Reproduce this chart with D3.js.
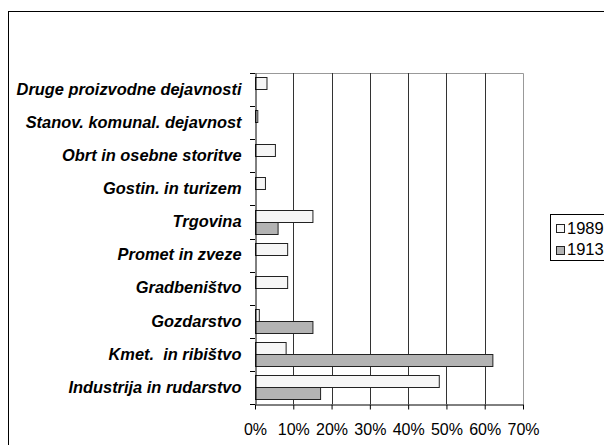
<!DOCTYPE html>
<html>
<head>
<meta charset="utf-8">
<script src="https://cdn.jsdelivr.net/npm/d3@7"></script>
<style>
  body { margin: 0; background: #fff; }
  text { font-family: "Liberation Sans", Arial, sans-serif; white-space: pre; }
</style>
</head>
<body>
<svg id="chart" width="604" height="445"></svg>
<script>
// categories top to bottom
const categories = [
  'Druge proizvodne dejavnosti',
  'Stanov. komunal. dejavnost',
  'Obrt in osebne storitve',
  'Gostin. in turizem',
  'Trgovina',
  'Promet in zveze',
  'Gradbeništvo',
  'Gozdarstvo',
  'Kmet.  in ribištvo',
  'Industrija in rudarstvo'
];
const values1989 = [3, 0.6, 5.2, 2.6, 15, 8.4, 8.4, 1, 8, 48];
const values1913 = [0, 0, 0, 0, 5.9, 0, 0, 15, 62, 17];
const xTicks = [0, 10, 20, 30, 40, 50, 60, 70];
const seriesNames = ['1989', '1913'];
const seriesColors = ['#f6f6f6', '#b3b3b3'];

const svg = d3.select('#chart');

// outer chart frame (runs off the right/bottom edge)
svg.append('rect')
  .attr('x', 8.5).attr('y', 11.5)
  .attr('width', 620).attr('height', 460)
  .attr('fill', 'none').attr('stroke', '#000');

const plot = { left: 255, right: 523, top: 73, bottom: 404 };

const x = d3.scaleLinear().domain([0, 70]).range([plot.left, plot.right]);
const y = d3.scaleBand().domain(categories).range([plot.top, plot.bottom]);
const inner = d3.scaleBand().domain(seriesNames)
  .range([0, y.bandwidth()]).paddingOuter(0.36);

// plot area border (top/right gray)
svg.append('path')
  .attr('d', `M${plot.left},${plot.top + 0.5}H${plot.right + 0.5}V${plot.bottom}`)
  .attr('fill', 'none').attr('stroke', '#999');

// vertical gridlines
svg.append('g').selectAll('line')
  .data(xTicks.slice(1, -1))
  .join('line')
  .attr('x1', d => Math.round(x(d)) + 0.5).attr('x2', d => Math.round(x(d)) + 0.5)
  .attr('y1', plot.top).attr('y2', plot.bottom)
  .attr('stroke', '#333');

// bars
const series = [values1989, values1913];
series.forEach((vals, si) => {
  svg.append('g').selectAll('rect')
    .data(categories.map((c, i) => ({ c, v: vals[i] })).filter(d => d.v > 0))
    .join('rect')
    .attr('x', plot.left + 0.5)
    .attr('y', d => Math.round(y(d.c) + inner(seriesNames[si])) + 0.5)
    .attr('width', d => x(d.v) - plot.left)
    .attr('height', Math.round(inner.bandwidth()))
    .attr('fill', seriesColors[si])
    .attr('stroke', '#222');
});

// x axis
const xAxis = svg.append('g')
  .attr('transform', `translate(0,${plot.bottom + 0.5})`)
  .call(d3.axisBottom(x).tickValues(xTicks).tickFormat(d => d + '%').tickSize(5).tickSizeOuter(0));
xAxis.select('.domain').attr('stroke', '#000');
xAxis.selectAll('text').attr('font-size', 16).attr('fill', '#000')
  .attr('font-family', '"Liberation Sans", Arial, sans-serif').attr('dy', '1.4em');

// y axis
const yAxis = svg.append('g')
  .attr('transform', `translate(${plot.left + 0.5},0)`)
  .call(d3.axisLeft(y).tickSize(0).tickPadding(14));
yAxis.select('.domain').attr('stroke', '#000');
yAxis.selectAll('text').attr('font-size', 16.4).attr('font-weight', 'bold')
  .attr('font-style', 'italic').attr('fill', '#000')
  .attr('font-family', '"Liberation Sans", Arial, sans-serif');
// category boundary ticks
svg.append('g').selectAll('line')
  .data(d3.range(categories.length + 1))
  .join('line')
  .attr('x1', plot.left - 5).attr('x2', plot.left)
  .attr('y1', i => Math.round(plot.top + i * y.step()) + 0.5)
  .attr('y2', i => Math.round(plot.top + i * y.step()) + 0.5)
  .attr('stroke', '#000');

// legend
const legend = svg.append('g');
legend.append('rect')
  .attr('x', 550.5).attr('y', 214.5).attr('width', 80).attr('height', 46)
  .attr('fill', '#fff').attr('stroke', '#000');
seriesNames.forEach((s, i) => {
  const yy = 224 + i * 21.5;
  legend.append('rect')
    .attr('x', 556.5).attr('y', Math.round(yy) + 0.5).attr('width', 8).attr('height', 8)
    .attr('fill', seriesColors[i]).attr('stroke', '#222');
  legend.append('text')
    .attr('x', 567).attr('y', yy + 9.5)
    .attr('font-size', 16.5).text(s);
});
</script>
</body>
</html>
